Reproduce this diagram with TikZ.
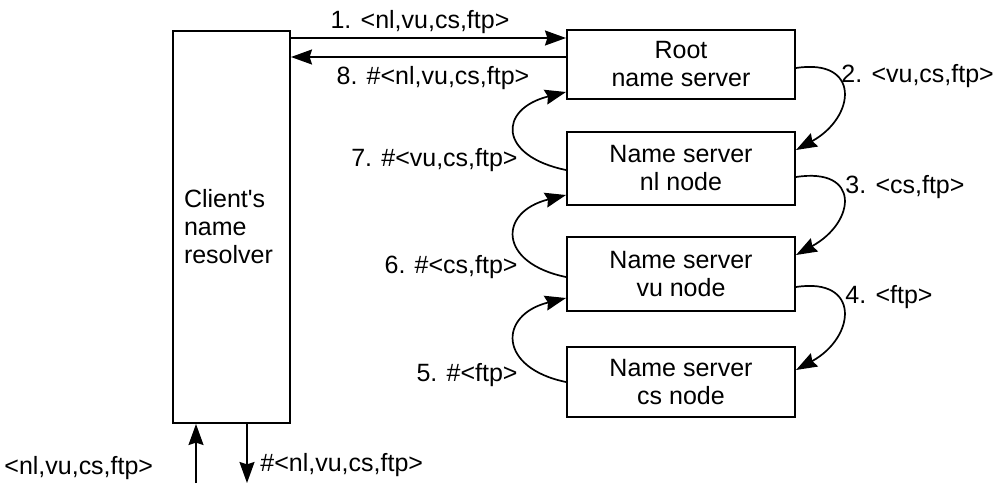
\documentclass[tikz,border=0pt]{standalone}
\usepackage{fontspec}
\setmainfont{Liberation Sans}
\usetikzlibrary{arrows.meta,calc}
\begin{document}
\begin{tikzpicture}[x=0.5pt,y=-0.5pt,
  font=\fontsize{12.5}{14}\selectfont,
  box/.style={draw,line width=1pt,inner sep=0pt,align=center,minimum width=114pt},
  arr/.style={line width=0.85pt,-{Stealth[length=10.5pt,width=7.5pt,inset=1.2pt]}},
  lbl/.style={inner sep=0pt}]
\useasboundingbox (0,0) rectangle (997,483);
% client
\node[box,minimum width=58.5pt,minimum height=196pt,align=left,text width=47.5pt,inner xsep=5.5pt] (client) at (231.5,227) {Client\textquotesingle s\\name\\resolver};
% servers
\node[box,minimum height=34.5pt] (root) at (681,64.5) {Root\\name server};
\node[box,minimum height=36.5pt] (nl) at (681,168.5) {Name server\\nl node};
\node[box,minimum height=37pt] (vu) at (681,274) {Name server\\vu node};
\node[box,minimum height=35pt] (cs) at (681,382) {Name server\\cs node};
% top arrows
\draw[arr] ([yshift=-4pt]client.north east) -- ([yshift=-4pt]client.north east -| root.west);
\draw[arr] ([yshift=-13.5pt]client.north east -| root.west) -- ([yshift=-13.5pt]client.north east);
\node[lbl] (l1) at (420,22) {1. <nl,vu,cs,ftp>};
\node[lbl] (l8) at (433,78) {8. \#<nl,vu,cs,ftp>};
% right curves (down the hierarchy)
\draw[arr] ([yshift=-1.75pt]root.east) .. controls +(65,-10) and +(60,-33) .. ([yshift=9.25pt]nl.east);
\draw[arr] ([yshift=-4.25pt]nl.east) .. controls +(65,-10) and +(60,-33) .. ([yshift=9.5pt]vu.east);
\draw[arr] ([yshift=-6.5pt]vu.east) .. controls +(65,-10) and +(60,-33) .. ([yshift=6pt]cs.east);
\node[lbl,anchor=west] (l2) at (841,76) {2. <vu,cs,ftp>};
\node[lbl,anchor=west] (l3) at (845,187) {3. <cs,ftp>};
\node[lbl,anchor=west] (l4) at (845,297) {4. <ftp>};
% left curves (replies)
\draw[arr] ([yshift=-0.75pt]nl.west) .. controls +(-68,-14) and +(-68,17) .. ([yshift=-13.75pt]root.west);
\draw[arr] ([yshift=-1.5pt]vu.west) .. controls +(-68,-14) and +(-68,17) .. ([yshift=-13.25pt]nl.west);
\draw[arr] (cs.west) .. controls +(-68,-14) and +(-68,17) .. ([yshift=-12pt]vu.west);
\node[lbl,anchor=east] (l7) at (518,160) {7. \#<vu,cs,ftp>};
\node[lbl,anchor=east] (l6) at (518,267) {6. \#<cs,ftp>};
\node[lbl,anchor=east] (l5) at (518,375) {5. \#<ftp>};
% bottom
\coordinate (inb) at (196,483);
\coordinate (outb) at (247,483);
\draw[arr] (inb) -- (inb |- client.south);
\draw[arr] (outb |- client.south) -- (outb);
\node[lbl,anchor=west] (lin) at (4,468) {<nl,vu,cs,ftp>};
\node[lbl,anchor=west] (lout) at (260,465) {\#<nl,vu,cs,ftp>};
\end{tikzpicture}
\end{document}
